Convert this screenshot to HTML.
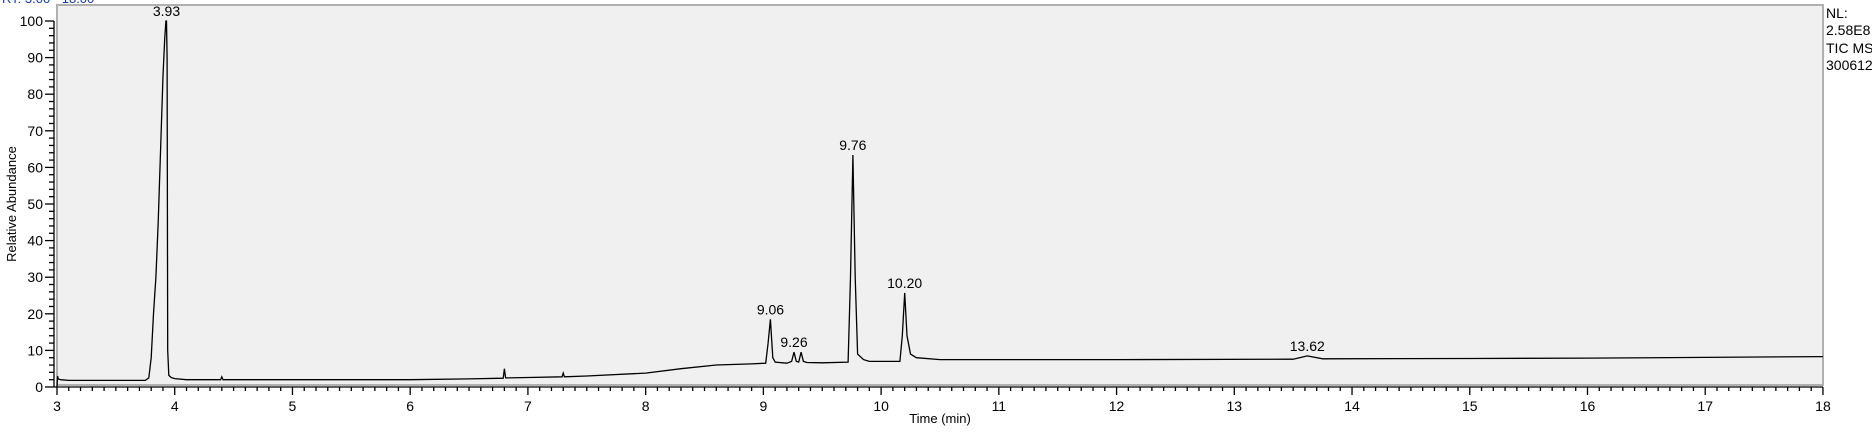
<!DOCTYPE html>
<html><head><meta charset="utf-8"><style>
html,body{margin:0;padding:0;background:#fff;}
svg{display:block;font-family:"Liberation Sans",Arial,sans-serif;}
</style></head><body>
<svg id="chart" width="1872" height="433" viewBox="0 0 1872 433">
<text x="2" y="3" font-size="13" fill="#1a3aa8">RT: 3.00 - 18.00</text>
<rect x="57" y="5" width="1766" height="380" fill="#f0f0f0" stroke="#b0b0b0" stroke-width="2"/>
<g id="axes"></g>
<path id="trace" fill="none" stroke="#000" stroke-width="1.3"/>
<g id="labels"></g>
<text x="1826" y="18" font-size="14">NL:</text>
<text x="1826" y="35" font-size="14">2.58E8</text>
<text x="1826" y="53" font-size="14">TIC  MS</text>
<text x="1826" y="70" font-size="14">300612</text>
<text x="940" y="423" font-size="13" text-anchor="middle">Time (min)</text>
<text transform="translate(16,204) rotate(-90)" font-size="13" text-anchor="middle">Relative Abundance</text>
</svg>
<script>
const times=[3.0,3.005,3.01,3.03,3.1,3.5,3.75,3.78,3.8,3.82,3.84,3.86,3.88,3.9,3.915,3.925,3.93,3.935,3.94,3.95,3.97,4.0,4.1,4.39,4.4,4.41,5.0,6.0,6.5,6.79,6.8,6.81,7.0,7.29,7.3,7.31,7.5,8.0,8.3,8.6,8.9,9.02,9.04,9.06,9.08,9.1,9.2,9.24,9.26,9.28,9.3,9.32,9.34,9.37,9.5,9.72,9.74,9.76,9.78,9.8,9.85,9.9,10.1,10.16,10.18,10.2,10.22,10.25,10.3,10.5,11,12,13.5,13.62,13.75,15,16,17,18];
const values=[0,3,2.2,2,1.8,1.8,1.8,2.5,8,20,30,45,65,85,95,100,100,90,10,3.2,2.6,2.3,2,2,2.8,2,2,2,2.2,2.4,5,2.5,2.6,2.8,3.8,2.8,3,3.8,5,6,6.3,6.5,12,18.5,8,6.8,6.5,7,9.5,7,6.8,9.5,7,6.7,6.6,6.8,30,63.4,30,9,7.5,7,7,7,14,25.7,14,9,8,7.5,7.5,7.5,7.6,8.5,7.7,7.8,7.9,8.1,8.3];
const xTicks=[3,4,5,6,7,8,9,10,11,12,13,14,15,16,17,18];
const yTicks=[0,10,20,30,40,50,60,70,80,90,100];
const peakLabels=["3.93","9.06","9.26","9.76","10.20","13.62"];
const peakTimes=[3.93,9.06,9.26,9.76,10.20,13.62];
const peakValues=[100,18.5,9.5,63.4,25.7,8.5];
const X=t=>57+(t-3)*117.73;
const Y=v=>387-v*3.66;
const NS="http://www.w3.org/2000/svg";
const ax=document.getElementById('axes');
function line(x1,y1,x2,y2,name){const l=document.createElementNS(NS,'line');l.setAttribute('x1',x1);l.setAttribute('y1',y1);l.setAttribute('x2',x2);l.setAttribute('y2',y2);l.setAttribute('stroke','#000');l.setAttribute('stroke-width','1.3');


ax.appendChild(l);}
function txt(x,y,s,anchor,name,parent){const t=document.createElementNS(NS,'text');t.setAttribute('x',x);t.setAttribute('y',y);t.setAttribute('font-size','14');t.setAttribute('text-anchor',anchor);t.textContent=s;


parent.appendChild(t);}
line(54,387,1823,387,'x-axis-line');
line(54,Y(100),54,387,'y-axis-line');
for(let i=0;i<=150;i++){const t=3+i*0.1;const major=i%10===0;line(X(t),387,X(t),major?395:391,major?'x-major-tick':'x-minor-tick');}
xTicks.forEach(t=>txt(X(t),411,String(t),'middle','x-tick-label',ax));
for(let v=0;v<=100;v+=2){const major=v%10===0;line(major?45:49,Y(v),54,Y(v),major?'y-major-tick':'y-minor-tick');}
yTicks.forEach(v=>txt(43,Y(v)+5,String(v),'end','y-tick-label',ax));
let d='';times.forEach((t,i)=>{d+=(i?'L':'M')+X(t).toFixed(1)+','+Y(values[i]).toFixed(1);});
document.getElementById('trace').setAttribute('d',d);
const lg=document.getElementById('labels');
peakLabels.forEach((s,i)=>txt(X(peakTimes[i]),Y(peakValues[i])-5,s,'middle','peak-label',lg));
</script>
</body></html>
